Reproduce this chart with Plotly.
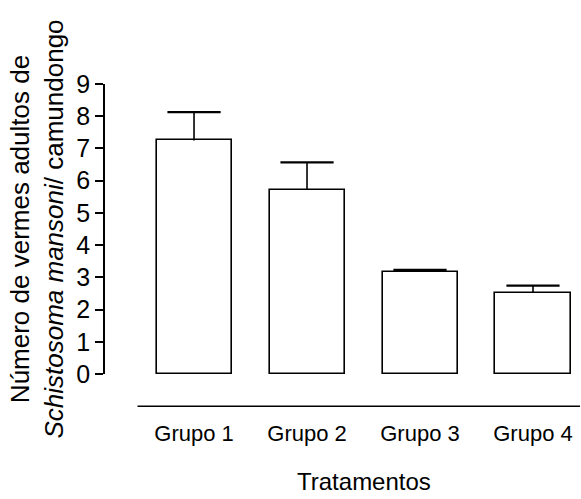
import plotly.graph_objects as go

# Mean number of adult worms per mouse and upper SEM for each treatment group
grupos = ["Grupo 1", "Grupo 2", "Grupo 3", "Grupo 4"]
media = [7.25, 5.71, 3.17, 2.51]
erro = [0.88, 0.86, 0.06, 0.23]

y_ticks = list(range(0, 10))

FONT = "Arial, Liberation Sans, sans-serif"
x_pos = list(range(len(grupos)))
topo = [m + e for m, e in zip(media, erro)]

fig = go.Figure()
fig.add_trace(go.Bar(
    x=x_pos,
    y=media,
    width=0.664,
    marker=dict(color="white", line=dict(color="black", width=1.6)),
    showlegend=False,
))

# Upper-only error bars: stem from bar top, cap as a horizontal line marker
fig.add_trace(go.Scatter(
    x=x_pos,
    y=topo,
    mode="markers",
    marker=dict(symbol="line-ew", size=38, line=dict(color="black", width=2.2)),
    error_y=dict(
        type="data",
        symmetric=False,
        array=[0] * len(erro),
        arrayminus=erro,
        color="black",
        thickness=1.6,
        width=0,
    ),
    cliponaxis=False,
    showlegend=False,
))

# Detached category axis line, drawn one unit below zero
fig.add_shape(
    type="line", xref="x", yref="paper",
    x0=-0.5, x1=3.5, y0=-1 / 9, y1=-1 / 9,
    line=dict(color="black", width=1.6),
)

fig.add_annotation(
    text="Tratamentos", xref="x", yref="paper",
    x=1.5, y=-0.424, xanchor="center", yanchor="bottom",
    showarrow=False, font=dict(family=FONT, size=24, color="black"),
)

fig.update_layout(
    width=581, height=499,
    margin=dict(l=105, r=1, t=84, b=125),
    plot_bgcolor="white", paper_bgcolor="white",
    font=dict(family=FONT, color="black"),
    bargap=0,
)

fig.update_xaxes(
    range=[-0.788, 3.416],
    tickmode="array", tickvals=x_pos, ticktext=grupos,
    showline=False, showgrid=False, zeroline=False,
    ticks="outside", ticklen=40, tickcolor="rgba(0,0,0,0)",
    tickfont=dict(family=FONT, size=22, color="black"),
)

fig.update_yaxes(
    range=[0, 9],
    tickmode="array", tickvals=y_ticks,
    showline=True, linecolor="black", linewidth=1.6,
    showgrid=False, zeroline=False,
    ticks="outside", ticklen=8, tickwidth=1.6, tickcolor="black",
    tickfont=dict(family=FONT, size=25, color="black"),
    title=dict(
        text="Número de vermes adultos de<br><i>Schistosoma mansoni</i>/ camundongo",
        font=dict(family=FONT, size=26, color="black"),
        standoff=5,
    ),
)

fig.write_html("out.html")
